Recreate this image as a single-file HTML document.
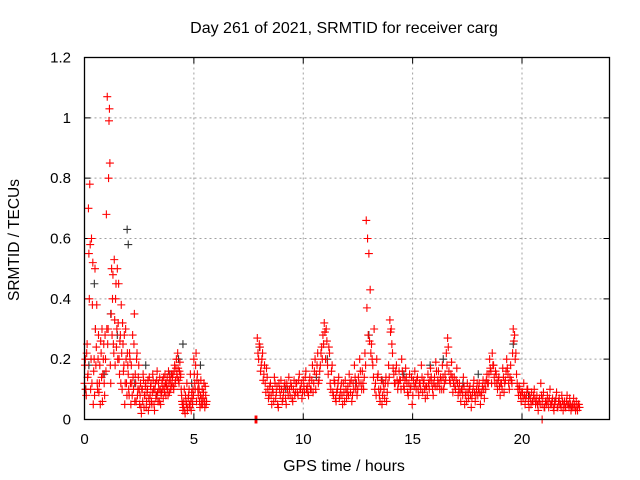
<!DOCTYPE html>
<html><head><meta charset="utf-8"><style>
body{margin:0;background:#fff}
svg{display:block;font-family:"Liberation Sans",sans-serif}
</style></head><body>
<svg id="chart" width="640" height="480">
<text x="344" y="33" text-anchor="middle" font-size="16">Day 261 of 2021, SRMTID for receiver carg</text>
<text x="344" y="471" text-anchor="middle" font-size="16">GPS time / hours</text>
<text transform="translate(19,240) rotate(-90)" text-anchor="middle" font-size="15.5">SRMTID / TECUs</text>
<g id="grid"></g><g id="ticks"></g><g id="marks"></g>
<rect x="84.5" y="57.5" width="525" height="362" fill="none" stroke="#000" stroke-width="1.3"/>
</svg>
<script>
const xTicks=[0,5,10,15,20];
const yTicks=[0,0.2,0.4,0.6,0.8,1,1.2];
const yTickLabels=["0","0.2","0.4","0.6","0.8","1","1.2"];
const seg1Start=0, seg1Step=0.04;
const seg1Vals=[0.12,0.2,0.08,0.25,0.15,0.55,0.78,0.1,0.6,0.38,0.05,0.2,0.5,
0.18,0.38,0.1,0.28,0.12,0.05,0.22,0.3,0.15,0.25,0.08,0.2,
0.68,1.07,0.3,0.99,0.85,0.12,0.5,0.4,0.25,0.53,0.18,0.45,0.3,
0.2,0.45,0.15,0.28,0.38,0.1,0.25,0.18,0.05,0.3,0.12,0.22,
0.15,0.08,0.2,0.05,0.12,0.28,0.1,0.35,0.15,0.06,0.22,0.1,0.18,
0.05,0.12,0.02,0.1,0.15,0.04,0.08,0.12,0.06,0.1,0.03,0.14,
0.08,0.12,0.05,0.15,0.1,0.03,0.12,0.08,0.16,0.06,0.1,0.14,0.05,
0.09,0.13,0.07,0.11,0.15,0.08,0.12,0.1,0.16,0.09,0.13,0.11,
0.12,0.15,0.1,0.18,0.13,0.2,0.14,0.17,0.12,0.19,0.15,0.08,0.05,
0.04,0.1,0.02,0.06,0.12,0.04,0.08,0.05,0.15,0.03,0.07,0.1,
0.2,0.12,0.18,0.06,0.15,0.08,0.1,0.04,0.13,0.07,0.05,0.09,0.06,0.11,0.05];
const seg1bStart=0.02, seg1bStep=0.04;
const seg1bVals=[0.18,0.1,0.22,0.14,0.7,0.4,0.58,0.2,0.12,0.52,0.16,0.08,0.3,
0.24,0.12,0.2,0.09,0.18,0.26,0.14,0.06,0.2,0.12,0.28,0.16,
0.3,0.25,0.8,1.03,0.18,0.35,0.28,0.48,0.22,0.33,0.4,0.24,0.5,
0.32,0.2,0.26,0.12,0.22,0.32,0.16,0.28,0.12,0.2,0.08,0.18,
0.1,0.22,0.12,0.18,0.08,0.14,0.25,0.06,0.12,0.2,0.08,0.14,0.1,
0.08,0.04,0.1,0.06,0.13,0.08,0.11,0.04,0.09,0.13,0.07,0.05,
0.11,0.06,0.09,0.13,0.05,0.1,0.07,0.13,0.09,0.12,0.06,0.1,0.08,
0.12,0.1,0.14,0.09,0.12,0.11,0.14,0.08,0.12,0.14,0.1,0.15,
0.14,0.11,0.16,0.12,0.17,0.15,0.22,0.13,0.16,0.14,0.1,0.06,0.03,
0.06,0.03,0.08,0.05,0.03,0.07,0.1,0.04,0.06,0.09,0.05,0.08,
0.15,0.1,0.22,0.13,0.1,0.12,0.06,0.08,0.05,0.1,0.07,0.12,0.04,0.08,0.06];
const seg2Start=7.9, seg2Step=0.06;
const seg2Vals=[0.27,0.2,0.24,0.18,0.22,0.15,0.12,0.17,0.1,0.08,
0.12,0.05,0.09,0.14,0.07,0.11,0.04,0.1,0.13,0.06,
0.09,0.12,0.05,0.1,0.14,0.08,0.11,0.06,0.13,0.09,
0.12,0.08,0.15,0.1,0.07,0.13,0.09,0.16,0.11,0.08,
0.14,0.1,0.18,0.12,0.2,0.15,0.22,0.13,0.18,0.24,
0.28,0.32,0.2,0.26,0.15,0.22,0.1,0.18,0.08,0.12,
0.06,0.1,0.14,0.08,0.12,0.05,0.09,0.13,0.07,0.11,
0.15,0.09,0.06,0.12,0.18,0.1,0.08,0.14,0.2,0.12,
0.16,0.1,0.22,0.66,0.6,0.55,0.43,0.25,0.18,0.3,
0.12,0.2,0.15,0.08,0.1,0.05,0.12,0.07,0.14,0.09,
0.18,0.33,0.3,0.22,0.15,0.12,0.18,0.1,0.16,0.13,
0.2,0.14,0.1,0.17,0.12,0.08,0.15,0.11,0.05,0.13,
0.16,0.1,0.14,0.08,0.12,0.18,0.09,0.13,0.07,0.11,
0.15,0.1,0.17,0.12,0.08,0.14,0.19,0.11,0.16,0.1,
0.13,0.18,0.1,0.15,0.22,0.27,0.16,0.12,0.19,0.09,
0.14,0.1,0.17,0.08,0.12,0.06,0.1,0.14,0.05,0.09,
0.12,0.07,0.11,0.04,0.09,0.13,0.06,0.1,0.08,0.12,
0.05,0.09,0.13,0.07,0.1,0.15,0.12,0.2,0.16,0.22,
0.18,0.12,0.15,0.1,0.14,0.08,0.12,0.17,0.09,0.13,
0.2,0.15,0.1,0.18,0.12,0.3,0.28,0.22,0.12,0.08,
0.1,0.06,0.09,0.12,0.05,0.08,0.1,0.04,0.07,0.09,
0.06,0.1,0.05,0.08,0.03,0.07,0.12,0.05,0.09,0.04,
0.06,0.08,0.04,0.1,0.05,0.07,0.03,0.06,0.09,0.04,
0.07,0.05,0.08,0.03,0.06,0.04,0.08,0.05,0.07,0.03,
0.05,0.07,0.04,0.06,0.03,0.05];
const seg2bStart=7.93, seg2bStep=0.06;
const seg2bVals=[0.22,0.25,0.16,0.2,0.13,0.18,0.09,0.14,0.07,0.11,
0.08,0.1,0.06,0.12,0.09,0.05,0.12,0.08,0.1,0.07,
0.11,0.07,0.12,0.08,0.1,0.12,0.07,0.1,0.08,0.12,
0.09,0.13,0.1,0.12,0.09,0.11,0.14,0.1,0.09,0.12,
0.1,0.13,0.09,0.16,0.1,0.18,0.12,0.16,0.22,0.2,
0.25,0.29,0.3,0.18,0.24,0.12,0.16,0.09,0.13,0.07,
0.09,0.12,0.07,0.1,0.08,0.12,0.06,0.1,0.09,0.08,
0.12,0.13,0.08,0.1,0.14,0.12,0.1,0.12,0.16,0.1,
0.12,0.14,0.18,0.37,0.28,0.26,0.22,0.2,0.14,0.1,
0.08,0.14,0.1,0.06,0.13,0.08,0.1,0.12,0.06,0.12,
0.14,0.29,0.25,0.17,0.12,0.16,0.13,0.12,0.13,0.1,
0.16,0.11,0.13,0.14,0.09,0.12,0.1,0.14,0.08,0.11,
0.12,0.13,0.1,0.12,0.1,0.14,0.12,0.1,0.11,0.08,
0.12,0.13,0.14,0.1,0.12,0.11,0.16,0.13,0.12,0.14,
0.1,0.14,0.12,0.13,0.18,0.24,0.13,0.15,0.14,0.12,
0.11,0.13,0.12,0.1,0.09,0.1,0.08,0.11,0.08,0.06,
0.09,0.1,0.08,0.07,0.11,0.09,0.08,0.12,0.1,0.09,
0.08,0.11,0.1,0.12,0.13,0.12,0.15,0.17,0.12,0.18,
0.14,0.16,0.12,0.13,0.11,0.12,0.1,0.14,0.12,0.16,
0.17,0.12,0.14,0.13,0.22,0.26,0.2,0.15,0.1,0.11,
0.08,0.09,0.07,0.08,0.07,0.1,0.06,0.08,0.05,0.06,
0.08,0.07,0.06,0.05,0.06,0.05,0.08,0.07,0.04,0.06,
0.05,0.06,0.07,0.05,0.06,0.04,0.05,0.07,0.04,0.06,
0.05,0.04,0.06,0.05,0.04,0.06,0.05,0.04,0.05,0.04,
0.04,0.05,0.03,0.04,0.05,0.04];
const zeroTimes=[7.8,7.84,7.88,20.92];
const blackTimes=[0.05,0.2,0.45,0.5,0.9,1.2,1.5,1.95,2.0,2.3,2.8,3.3,3.9,4.3,4.5,4.9,5.3,8.0,9.2,10.6,11.1,12.4,13.0,13.6,14.6,15.8,16.4,17.3,18.0,19.6,20.3,21.5,22.2];
const blackVals=[0.1,0.18,0.45,0.3,0.15,0.35,0.28,0.63,0.58,0.12,0.18,0.08,0.15,0.2,0.25,0.12,0.18,0.24,0.1,0.14,0.2,0.12,0.28,0.13,0.15,0.18,0.2,0.12,0.15,0.25,0.08,0.06,0.05];

const NS='http://www.w3.org/2000/svg';
const X0=84.5,X1=609.5,Y0=419.5,Y1=57.5;
const xs=t=>X0+(t/24)*(X1-X0);
const ys=v=>Y0-(v/1.2)*(Y0-Y1);
function mk(tag,attrs,parent){const e=document.createElementNS(NS,tag);for(const k in attrs)e.setAttribute(k,attrs[k]);parent.appendChild(e);return e;}
const grid=document.getElementById('grid'),ticks=document.getElementById('ticks'),marks=document.getElementById('marks');
xTicks.forEach(t=>{const x=xs(t);
 if(t>0){const g=mk('line',{x1:x,x2:x,y1:Y1,y2:Y0,stroke:'#a0a0a0','stroke-dasharray':'2,3'},grid);
 
 }
 const tk=mk('path',{d:`M${x},${Y0}v-6M${x},${Y1}v6`,stroke:'#000'},ticks);
 
 
 const lb=mk('text',{x:x,y:444,'text-anchor':'middle','font-size':'15'},ticks);lb.textContent=String(t);
 
 });
yTicks.forEach((v,i)=>{const y=ys(v);
 if(v>0&&v<1.2){const g=mk('line',{x1:X0,x2:X1,y1:y,y2:y,stroke:'#a0a0a0','stroke-dasharray':'2,3'},grid);
 
 }
 const tk=mk('path',{d:`M${X0},${y}h6M${X1},${y}h-6`,stroke:'#000'},ticks);
 
 
 const lb=mk('text',{x:71,y:y+5,'text-anchor':'end','font-size':'15'},ticks);lb.textContent=yTickLabels[i];
 
 });
function plus(t,v,color,name){const x=xs(t),y=ys(v);
 const p=mk('path',{d:`M${x-4},${y}h8M${x},${y-4}v8`,stroke:color,'stroke-width':'1.1',fill:'none'},marks);
 
 }
blackTimes.forEach((t,i)=>plus(t,blackVals[i],'#333','black-series-point'));
seg1Vals.forEach((v,i)=>plus(seg1Start+i*seg1Step,v,'#f00','red-series-point'));
seg1bVals.forEach((v,i)=>plus(seg1bStart+i*seg1bStep,v,'#f00','red-series-point'));
seg2Vals.forEach((v,i)=>plus(seg2Start+i*seg2Step,v,'#f00','red-series-point'));
seg2bVals.forEach((v,i)=>plus(seg2bStart+i*seg2bStep,v,'#f00','red-series-point'));
zeroTimes.forEach(t=>plus(t,0,'#f00','red-zero-point'));
</script>
</body></html>
